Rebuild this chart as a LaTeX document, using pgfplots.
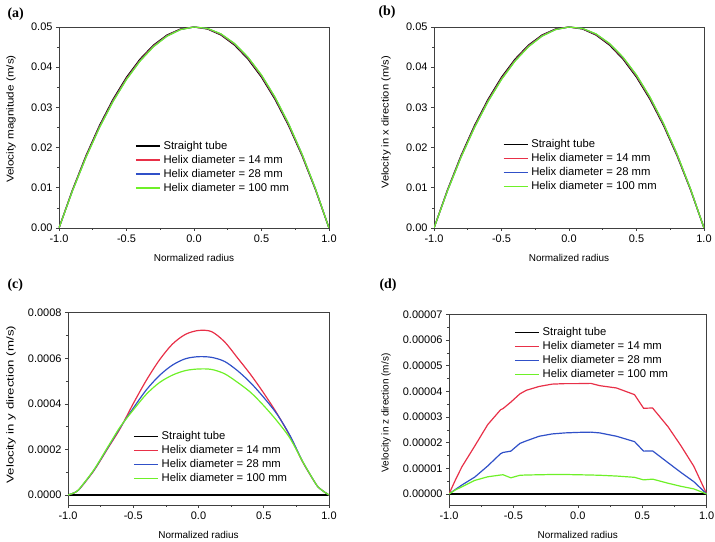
\documentclass[border=0pt]{standalone}
\usepackage{graphicx}
\usepackage{pgfplots}
\pgfplotsset{compat=1.18}
\usepackage{pgfplotstable}
\usepackage{fontspec}
\setmainfont{Liberation Sans}
\newfontfamily\panelfont{Liberation Serif}
\definecolor{cred}{RGB}{232,48,72}
\definecolor{cblue}{RGB}{48,80,200}
\definecolor{cgreen}{RGB}{110,240,40}

\pgfplotstableread{
r s h14 h28 h100
-1.0 0 0 0 0
-0.9 0.0095 0.009372 0.009286 0.009244
-0.8 0.018 0.017784 0.01764 0.017568
-0.7 0.0255 0.025232 0.025054 0.024965
-0.6 0.032 0.031712 0.03152 0.031424
-0.5 0.0375 0.037219 0.037031 0.036938
-0.4 0.042 0.041748 0.04158 0.041496
-0.3 0.0455 0.045295 0.045159 0.045091
-0.2 0.048 0.047856 0.04776 0.047712
-0.1 0.0495 0.049426 0.049376 0.049352
0.0 0.05 0.05 0.05 0.05
0.1 0.0495 0.049574 0.049624 0.049649
0.2 0.048 0.048144 0.04824 0.048288
0.3 0.0455 0.045705 0.045841 0.045910
0.4 0.042 0.042252 0.04242 0.042504
0.5 0.0375 0.037781 0.037969 0.038063
0.6 0.032 0.032288 0.03248 0.032576
0.7 0.0255 0.025768 0.025946 0.026036
0.8 0.018 0.018216 0.01836 0.018432
0.9 0.0095 0.009628 0.009714 0.009757
1.0 0 0 0 0
}\tabA

\pgfplotstableread{
r h14 h28 h100
-1.0 0 0 0
-0.95 0.000010 0.000010 0.000010
-0.93 0.000017 0.000017 0.000017
-0.9 0.000034 0.000035 0.000036
-0.8 0.000108 0.000110 0.000112
-0.7 0.000200 0.000203 0.000206
-0.6 0.000292 0.000296 0.000299
-0.5 0.000401 0.000381 0.000373
-0.4 0.000503 0.000461 0.000442
-0.3 0.000592 0.000524 0.000493
-0.2 0.000662 0.000570 0.000526
-0.1 0.000705 0.000598 0.000546
0.0 0.000722 0.000607 0.000553
0.1 0.000717 0.000604 0.000551
0.2 0.000672 0.000586 0.000532
0.3 0.000601 0.000545 0.000494
0.4 0.000528 0.000492 0.000450
0.5 0.000447 0.000428 0.000392
0.6 0.000359 0.000356 0.000326
0.7 0.000259 0.000262 0.000250
0.8 0.000143 0.000145 0.000145
0.9 0.000048 0.000048 0.000048
0.93 0.000028 0.000028 0.000028
0.96 0.000015 0.000015 0.000015
1.0 0 0 0
}\tabC

\pgfplotstableread{
r h14 h28 h100
-1.0 0 0 0
-0.95 0.0000055 0.0000018 0.0000016
-0.9 0.0000106 0.0000035 0.0000028
-0.8 0.0000187 0.0000066 0.0000053
-0.7 0.0000270 0.0000109 0.0000067
-0.6 0.0000328 0.0000157 0.0000074
-0.58 0.0000333 0.0000162 0.0000075
-0.52 0.0000358 0.0000167 0.0000063
-0.45 0.0000390 0.0000197 0.0000073
-0.4 0.0000404 0.0000207 0.0000074
-0.3 0.0000419 0.0000225 0.0000075
-0.2 0.0000428 0.0000234 0.0000076
-0.1 0.0000430 0.0000238 0.0000076
0.0 0.0000430 0.0000240 0.0000075
0.1 0.0000431 0.0000241 0.0000074
0.17 0.0000422 0.0000238 0.0000073
0.3 0.0000413 0.0000225 0.0000070
0.44 0.0000387 0.0000204 0.0000065
0.51 0.0000334 0.0000167 0.0000055
0.58 0.0000335 0.0000168 0.0000058
0.7 0.0000262 0.0000122 0.0000042
0.8 0.0000188 0.0000084 0.0000030
0.9 0.0000108 0.0000048 0.0000020
1.0 0 0 0
}\tabD

\pgfplotsset{
  panel/.style={
    scale only axis,
    anchor=south west,
    xmin=-1, xmax=1,
    xtick={-1,-0.5,0,0.5,1},
    minor x tick num=1, minor y tick num=1,
    tick pos=left, tick align=outside,
    major tick length=3bp, minor tick length=2bp,
    axis line style={black!75, line width=0.8bp},
    every tick/.style={black!75, line width=0.6bp},
    /pgf/number format/assume math mode=true,
    x tick label style={/pgf/number format/.cd, fixed, fixed zerofill, precision=1},
    tick label style={font=\fontsize{11}{13}\selectfont},
    label style={font=\fontsize{11}{13}\selectfont},
    x label style={font=\fontsize{11.6}{13}\selectfont},
    scaled y ticks=false,
    xlabel={Normalized radius},
    every axis x label/.style={at={(axis description cs:0.5,0)}, anchor=center, yshift=-30bp},
    legend cell align=left,
    legend style={draw=none, fill=none, inner sep=0pt, anchor=north west,
      font=\fontsize{11.3}{13}\selectfont,
      nodes={inner sep=0pt, text height=9bp, text depth=2.5bp},
      row sep=2.5bp,
      /tikz/every odd column/.append style={column sep=3bp}},
    legend image code/.code={\draw[##1, line width=1.5bp] (0bp,0bp) -- (24bp,0bp);},
    cycle list={{black,line width=1.2bp},{cred,line width=1.2bp},{cblue,line width=1.2bp},{cgreen,line width=1.2bp}},
  }
}

\begin{document}
\begin{tikzpicture}
\path[use as bounding box] (0,0) rectangle (715bp,542bp);

% (a)
\begin{axis}[panel, at={(59bp,314bp)}, width=270bp, height=201bp,
  ymin=0, ymax=0.05, ytick={0,0.01,0.02,0.03,0.04,0.05},
  y tick label style={/pgf/number format/.cd, fixed, fixed zerofill, precision=2},
  ylabel={\scalebox{1.17}[1]{Velocity magnitude (m/s)}},
  every axis y label/.style={at={(axis description cs:-0.178,0.542)}, rotate=90, anchor=center},
  legend style={at={(rel axis cs:0.281,0.438)}}]
\addplot table[x=r,y=s]{\tabA};
\addplot table[x=r,y=h14]{\tabA};
\addplot table[x=r,y=h28]{\tabA};
\addplot table[x=r,y=h100]{\tabA};
\legend{Straight tube, Helix diameter = 14 mm, Helix diameter = 28 mm, Helix diameter = 100 mm}
\end{axis}

% (b)
\begin{axis}[panel, at={(434bp,314bp)}, width=270bp, height=201bp,
  ymin=0, ymax=0.05, ytick={0,0.01,0.02,0.03,0.04,0.05},
  y tick label style={/pgf/number format/.cd, fixed, fixed zerofill, precision=2},
  ylabel={\scalebox{1.12}[1]{Velocity in x direction (m/s)}},
  every axis y label/.style={at={(axis description cs:-0.178,0.525)}, rotate=90, anchor=center},
  legend style={at={(rel axis cs:0.254,0.446)}}]
\addplot table[x=r,y=s]{\tabA};
\addplot table[x=r,y=h14]{\tabA};
\addplot table[x=r,y=h28]{\tabA};
\addplot table[x=r,y=h100]{\tabA};
\legend{Straight tube, Helix diameter = 14 mm, Helix diameter = 28 mm, Helix diameter = 100 mm}
\end{axis}

% (c)
\begin{axis}[panel, at={(68bp,37bp)}, width=261bp, height=192.3bp,
  ymin=-0.0000439, ymax=0.0008, ytick={0,0.0002,0.0004,0.0006,0.0008},
  y tick label style={/pgf/number format/.cd, fixed, fixed zerofill, precision=4},
  ylabel={\scalebox{1.33}[1]{Velocity in y direction (m/s)}},
  every axis y label/.style={at={(axis description cs:-0.218,0.522)}, rotate=90, anchor=center},
  legend style={at={(rel axis cs:0.249,0.386)}}]
\addplot coordinates {(-1,0) (1,0)};
\addplot+[smooth] table[x=r,y=h14]{\tabC};
\addplot+[smooth] table[x=r,y=h28]{\tabC};
\addplot+[smooth] table[x=r,y=h100]{\tabC};
\legend{Straight tube, Helix diameter = 14 mm, Helix diameter = 28 mm, Helix diameter = 100 mm}
\end{axis}

% (d)
\begin{axis}[panel, at={(449bp,37bp)}, width=257.7bp, height=190.7bp,
  ymin=-0.00000428, ymax=0.00007,
  ytick={0,0.00001,0.00002,0.00003,0.00004,0.00005,0.00006,0.00007},
  y tick label style={/pgf/number format/.cd, fixed, fixed zerofill, precision=5},
  ylabel={Velocity in z direction (m/s)},
  every axis y label/.style={at={(axis description cs:-0.244,0.483)}, rotate=90, anchor=center},
  legend style={at={(rel axis cs:0.252,0.937)}}]
\addplot coordinates {(-1,0) (1,0)};
\addplot table[x=r,y=h14]{\tabD};
\addplot table[x=r,y=h28]{\tabD};
\addplot table[x=r,y=h100]{\tabD};
\legend{Straight tube, Helix diameter = 14 mm, Helix diameter = 28 mm, Helix diameter = 100 mm}
\end{axis}

\node[anchor=west, font=\panelfont\bfseries\fontsize{14}{16}\selectfont] at (4bp,528bp) {(a)};
\node[anchor=west, font=\panelfont\bfseries\fontsize{14}{16}\selectfont] at (375bp,530bp) {(b)};
\node[anchor=west, font=\panelfont\bfseries\fontsize{14}{16}\selectfont] at (4bp,257bp) {(c)};
\node[anchor=west, font=\panelfont\bfseries\fontsize{14}{16}\selectfont] at (376bp,257bp) {(d)};
\end{tikzpicture}
\end{document}
